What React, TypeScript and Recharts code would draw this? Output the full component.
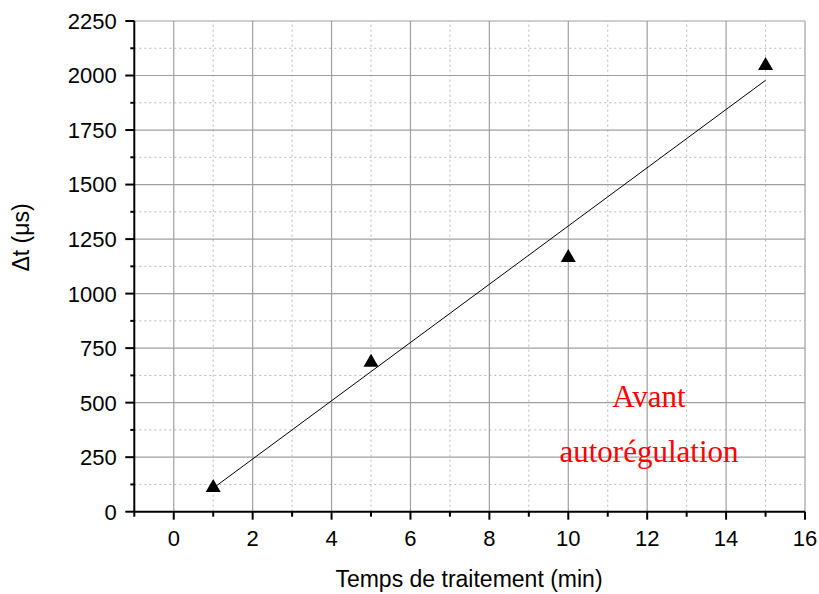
import React from 'react';
import { ComposedChart, XAxis, YAxis, Line, Scatter, ReferenceLine } from 'recharts';

// Measured data
const timesMin = [1, 5, 10, 15];
const deltaT = [120, 695, 1175, 2055];
// Linear fit endpoints
const fitX = [1, 15];
const fitY = [108, 1978];

// Axis ticks
const xTicks = [-1, 0, 1, 2, 3, 4, 5, 6, 7, 8, 9, 10, 11, 12, 13, 14, 15, 16];
const xMajor = [0, 2, 4, 6, 8, 10, 12, 14, 16];
const xMinorGrid = [1, 3, 5, 7, 9, 11, 13, 15];
const yTicks = [0, 125, 250, 375, 500, 625, 750, 875, 1000, 1125, 1250, 1375, 1500, 1625, 1750, 1875, 2000, 2125, 2250];
const yMajorGrid = [250, 500, 750, 1000, 1250, 1500, 1750, 2000, 2250];
const yMinorGrid = [125, 375, 625, 875, 1125, 1375, 1625, 1875, 2125];

const pointData = timesMin.map((x, i) => ({ x, y: deltaT[i] }));
const fitData = fitX.map((x, i) => ({ x, y: fitY[i] }));

const FONT = '"Liberation Sans", Arial, sans-serif';
const SERIF = '"Liberation Serif", "Times New Roman", serif';

const XTick = (props: any) => {
  const { x, y, payload } = props;
  const v = payload.value;
  const isMajor = xMajor.includes(v);
  return (
    <g>
      <line x1={x} x2={x} y1={y} y2={y + (isMajor ? 8 : 5)} stroke="#000" strokeWidth={2} />
      {isMajor && (
        <text x={x} y={y + 34.5} textAnchor="middle" fontSize={22} fontFamily={FONT} fill="#000">
          {v}
        </text>
      )}
    </g>
  );
};

const YTick = (props: any) => {
  const { x, y, payload } = props;
  const v = payload.value;
  const isMajor = v % 250 === 0;
  return (
    <g>
      <line x1={x} x2={x - (isMajor ? 9 : 4)} y1={y} y2={y} stroke="#000" strokeWidth={2} />
      {isMajor && (
        <text x={x - 17.5} y={y} dy="0.36em" textAnchor="end" fontSize={22} fontFamily={FONT} fill="#000">
          {v}
        </text>
      )}
    </g>
  );
};

const Triangle = (props: any) => {
  const { cx, cy } = props;
  const w = 15;
  const h = 13;
  return (
    <polygon
      points={`${cx},${cy - h / 2} ${cx + w / 2},${cy + h / 2} ${cx - w / 2},${cy + h / 2}`}
      fill="#000"
    />
  );
};

export default function App() {
  return (
    <div style={{ position: 'relative', width: 819, height: 594, overflow: 'hidden' }}>
      <style>{'html,body{margin:0;padding:0;overflow:hidden;}'}</style>
      <div style={{ position: 'absolute', left: 8, top: 8, width: 811, height: 586 }}>
        <ComposedChart
          width={811}
          height={586}
          margin={{ top: 13, right: 14, bottom: 22.3, left: 46.3 }}
        >
          <XAxis
            type="number"
            dataKey="x"
            domain={[-1, 16]}
            ticks={xTicks}
            interval={0}
            height={60}
            tickSize={0}
            tickMargin={0}
            tickLine={false}
            tick={<XTick />}
            axisLine={{ stroke: '#000', strokeWidth: 2 }}
            allowDataOverflow
          />
          <YAxis
            type="number"
            dataKey="y"
            domain={[0, 2250]}
            ticks={yTicks}
            interval={0}
            width={80}
            tickSize={0}
            tickMargin={0}
            tickLine={false}
            tick={<YTick />}
            axisLine={{ stroke: '#000', strokeWidth: 2 }}
            allowDataOverflow
          />
          {xMinorGrid.map((v) => (
            <ReferenceLine key={'xm' + v} x={v} stroke="#b8b8b8" strokeDasharray="2 3" strokeWidth={1} />
          ))}
          {yMinorGrid.map((v) => (
            <ReferenceLine key={'ym' + v} y={v} stroke="#b8b8b8" strokeDasharray="2 3" strokeWidth={1} />
          ))}
          {xMajor.map((v) => (
            <ReferenceLine key={'xM' + v} x={v} stroke="#a0a0a0" strokeWidth={1.2} />
          ))}
          {yMajorGrid.map((v) => (
            <ReferenceLine key={'yM' + v} y={v} stroke="#a0a0a0" strokeWidth={1.2} />
          ))}
          <Line
            data={fitData}
            dataKey="y"
            type="linear"
            stroke="#000"
            strokeWidth={1}
            dot={false}
            isAnimationActive={false}
          />
          <Scatter data={pointData} dataKey="y" shape={<Triangle />} isAnimationActive={false} />
        </ComposedChart>
        <svg
          width={811}
          height={586}
          style={{ position: 'absolute', left: 0, top: 0, pointerEvents: 'none' }}
        >
          <text x={461} y={578.7} textAnchor="middle" fontSize={23} fontFamily={FONT} fill="#000">
            Temps de traitement (min)
          </text>
          <text
            x={21}
            y={229.5}
            textAnchor="middle"
            fontSize={23}
            fontFamily={FONT}
            fill="#000"
            transform="rotate(-90 21 229.5)"
          >
            Δt (μs)
          </text>
          <text x={641} y={398.7} textAnchor="middle" fontSize={31} fontFamily={SERIF} fill="#ff0000">
            Avant
          </text>
          <text x={641} y={454} textAnchor="middle" fontSize={31} fontFamily={SERIF} fill="#ff0000">
            autorégulation
          </text>
        </svg>
      </div>
    </div>
  );
}
